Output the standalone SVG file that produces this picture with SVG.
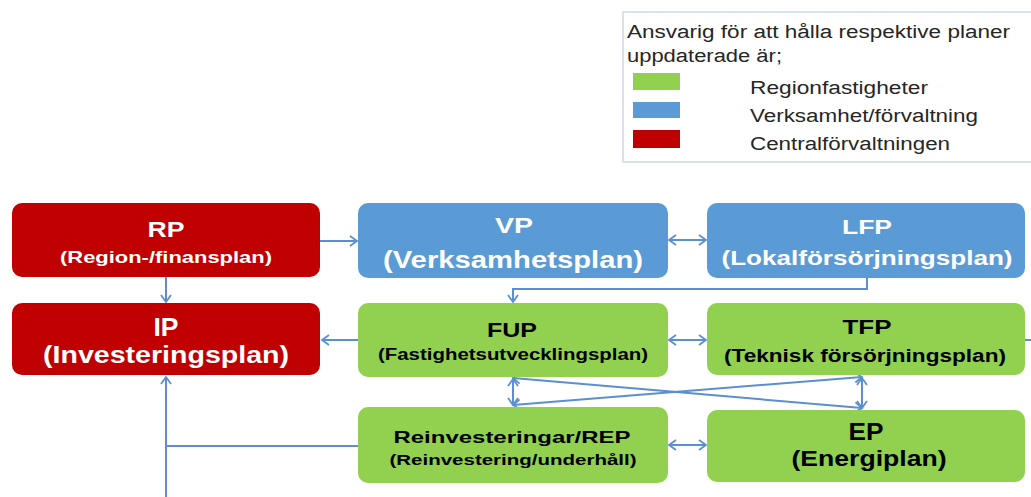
<svg xmlns="http://www.w3.org/2000/svg" width="1031" height="497" viewBox="0 0 1031 497">
<style>
.red{fill:#C00000}
.blue{fill:#5B9BD5}
.green{fill:#92D050}
.wt{fill:#fff;font-family:"Liberation Sans",Arial,sans-serif;font-weight:bold;text-anchor:middle}
.bt{fill:#000;font-family:"Liberation Sans",Arial,sans-serif;font-weight:bold;text-anchor:middle}
.lg{fill:#262626;font-family:"Liberation Sans",Arial,sans-serif;font-size:18px}
.c{fill:none;stroke:#5B8FD0;stroke-width:2}
</style>
<defs>
<marker id="ah" markerWidth="12" markerHeight="12" refX="9" refY="6" orient="auto-start-reverse" markerUnits="userSpaceOnUse">
<path d="M2,1 L9,6 L2,11" fill="none" stroke="#5B8FD0" stroke-width="1.8"/>
</marker>
</defs>
<rect width="1031" height="497" fill="#fff"/>
<g id="legend">
<rect x="623" y="12" width="420" height="150" fill="#fff" stroke="#cdd8e6" stroke-width="1.5"/>
<text class="lg" x="627" y="38" textLength="383" lengthAdjust="spacingAndGlyphs">Ansvarig för att hålla respektive planer</text>
<text class="lg" x="627" y="62" textLength="155" lengthAdjust="spacingAndGlyphs">uppdaterade är;</text>
<rect x="633" y="73" width="47" height="17" class="green"/>
<rect x="633" y="102" width="47" height="16" class="blue"/>
<rect x="633" y="130" width="47" height="18" class="red"/>
<text class="lg" x="750" y="94" textLength="178" lengthAdjust="spacingAndGlyphs">Regionfastigheter</text>
<text class="lg" x="750" y="122" textLength="228" lengthAdjust="spacingAndGlyphs">Verksamhet/förvaltning</text>
<text class="lg" x="750" y="150" textLength="200" lengthAdjust="spacingAndGlyphs">Centralförvaltningen</text>
</g>
<g id="connectors">
<line class="c" x1="320" y1="241" x2="357" y2="241" marker-end="url(#ah)"/>
<line class="c" x1="166" y1="277" x2="166" y2="302" marker-end="url(#ah)"/>
<line class="c" x1="669" y1="240" x2="706" y2="240" marker-start="url(#ah)" marker-end="url(#ah)"/>
<polyline class="c" points="867,278 867,289 513,289 513,302" marker-end="url(#ah)"/>
<line class="c" x1="358" y1="340" x2="322" y2="340" marker-end="url(#ah)"/>
<line class="c" x1="669" y1="340" x2="706" y2="340" marker-start="url(#ah)" marker-end="url(#ah)"/>
<line class="c" x1="1025" y1="340" x2="1031" y2="340"/>
<line class="c" x1="669" y1="445" x2="706" y2="445" marker-start="url(#ah)" marker-end="url(#ah)"/>
<line class="c" x1="358" y1="446" x2="166" y2="446"/>
<line class="c" x1="166" y1="497" x2="166" y2="377" marker-end="url(#ah)"/>
<line class="c" x1="513" y1="378" x2="862" y2="408" marker-start="url(#ah)" marker-end="url(#ah)"/>
<line class="c" x1="513" y1="405" x2="862" y2="377" marker-start="url(#ah)" marker-end="url(#ah)"/>
<line class="c" x1="513" y1="379" x2="513" y2="405" marker-start="url(#ah)" marker-end="url(#ah)"/>
<line class="c" x1="862" y1="378" x2="862" y2="408" marker-start="url(#ah)" marker-end="url(#ah)"/>
</g>
<g id="RP">
<rect x="12" y="203" width="308" height="74" rx="10" class="red"/>
<text class="wt" x="166" y="237" font-size="22" textLength="37" lengthAdjust="spacingAndGlyphs">RP</text>
<text class="wt" x="166" y="263" font-size="17" textLength="212" lengthAdjust="spacingAndGlyphs">(Region-/finansplan)</text>
</g>
<g id="IP">
<rect x="12" y="303" width="308" height="72" rx="10" class="red"/>
<text class="wt" x="166" y="336" font-size="25" textLength="25" lengthAdjust="spacingAndGlyphs">IP</text>
<text class="wt" x="166" y="363" font-size="24" textLength="246" lengthAdjust="spacingAndGlyphs">(Investeringsplan)</text>
</g>
<g id="VP">
<rect x="358" y="203" width="310" height="75" rx="10" class="blue"/>
<text class="wt" x="514" y="233" font-size="22" textLength="38" lengthAdjust="spacingAndGlyphs">VP</text>
<text class="wt" x="513" y="268" font-size="24" textLength="260" lengthAdjust="spacingAndGlyphs">(Verksamhetsplan)</text>
</g>
<g id="LFP">
<rect x="707" y="203" width="318" height="75" rx="10" class="blue"/>
<text class="wt" x="867" y="234" font-size="21" textLength="50" lengthAdjust="spacingAndGlyphs">LFP</text>
<text class="wt" x="867" y="265" font-size="20" textLength="291" lengthAdjust="spacingAndGlyphs">(Lokalförsörjningsplan)</text>
</g>
<g id="FUP">
<rect x="358" y="303" width="310" height="74" rx="10" class="green"/>
<text class="bt" x="512" y="337" font-size="21" textLength="50" lengthAdjust="spacingAndGlyphs">FUP</text>
<text class="bt" x="513" y="360" font-size="16" textLength="270" lengthAdjust="spacingAndGlyphs">(Fastighetsutvecklingsplan)</text>
</g>
<g id="TFP">
<rect x="707" y="303" width="318" height="72" rx="10" class="green"/>
<text class="bt" x="867" y="334" font-size="21" textLength="49" lengthAdjust="spacingAndGlyphs">TFP</text>
<text class="bt" x="865" y="362" font-size="18" textLength="282" lengthAdjust="spacingAndGlyphs">(Teknisk försörjningsplan)</text>
</g>
<g id="REP">
<rect x="358" y="407" width="310" height="76" rx="10" class="green"/>
<text class="bt" x="512" y="443" font-size="17" textLength="237" lengthAdjust="spacingAndGlyphs">Reinvesteringar/REP</text>
<text class="bt" x="513" y="465" font-size="15" textLength="247" lengthAdjust="spacingAndGlyphs">(Reinvestering/underhåll)</text>
</g>
<g id="EP">
<rect x="707" y="410" width="318" height="72" rx="10" class="green"/>
<text class="bt" x="866" y="440" font-size="23" textLength="35" lengthAdjust="spacingAndGlyphs">EP</text>
<text class="bt" x="869" y="466" font-size="22" textLength="155" lengthAdjust="spacingAndGlyphs">(Energiplan)</text>
</g>
</svg>
